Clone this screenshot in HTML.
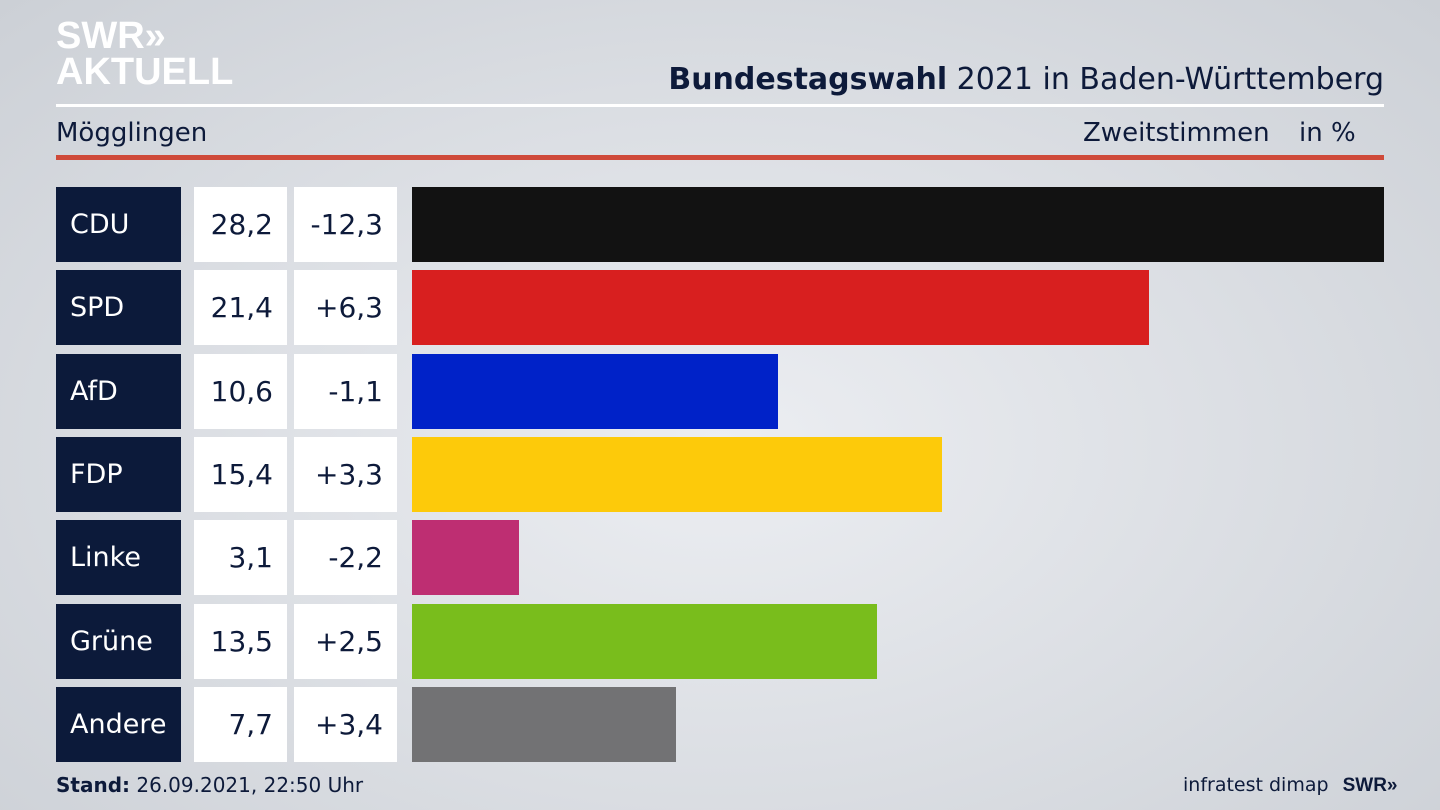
<!DOCTYPE html>
<html><head><meta charset="utf-8"><style>
*{margin:0;padding:0;box-sizing:border-box}
body{width:1440px;height:810px;overflow:hidden;font-family:"DejaVu Sans","Liberation Sans",sans-serif;color:#0d1a3a;
background:radial-gradient(ellipse at 50% 55%,#eceef2 0%,#dcdfe4 50%,#ccd0d6 100%);position:relative}
.a{position:absolute}
.logo{font-family:"Liberation Sans",sans-serif;font-weight:bold;color:#fff;font-size:38px;line-height:34px;letter-spacing:0px}
.row{position:absolute;left:56px;height:75px}
.nm{position:absolute;left:0;width:125px;height:75px;background:#0c1a3a;color:#fff;font-size:27px;line-height:75px;padding-left:14px}
.v{position:absolute;left:138px;width:93px;height:75px;background:#fff;font-size:28px;line-height:75px;text-align:right;padding-right:14px}
.d{position:absolute;left:238px;width:103px;height:75px;background:#fff;font-size:28px;line-height:75px;text-align:right;padding-right:14px}
.b{position:absolute;left:356px;height:75px}
</style></head><body>
<div class="a logo" style="left:56px;top:19px">SWR&#187;</div>
<div class="a logo" style="left:56px;top:55px">AKTUELL</div>
<div class="a" style="left:56px;top:104px;width:1328px;height:3px;background:#fff"></div>
<div class="a" style="right:56px;top:60px;font-size:30px;line-height:40px"><b>Bundestagswahl</b> 2021 in Baden-Württemberg</div>
<div class="a" style="left:56px;top:115px;font-size:26px;line-height:36px">Mögglingen</div>
<div class="a" style="left:1083px;top:115px;font-size:26px;line-height:36px">Zweitstimmen</div>
<div class="a" style="left:1299px;top:115px;font-size:26px;line-height:36px">in %</div>
<div class="a" style="left:56px;top:155px;width:1328px;height:5px;background:#cf4a3a"></div>

<div class="row" style="top:187px"><div class="nm">CDU</div><div class="v">28,2</div><div class="d">-12,3</div><div class="b" style="width:972px;background:#121212"></div></div>
<div class="row" style="top:270px"><div class="nm">SPD</div><div class="v">21,4</div><div class="d">+6,3</div><div class="b" style="width:737px;background:#d81f1f"></div></div>
<div class="row" style="top:354px"><div class="nm">AfD</div><div class="v">10,6</div><div class="d">-1,1</div><div class="b" style="width:366px;background:#0022c8"></div></div>
<div class="row" style="top:437px"><div class="nm">FDP</div><div class="v">15,4</div><div class="d">+3,3</div><div class="b" style="width:530px;background:#fdca0a"></div></div>
<div class="row" style="top:520px"><div class="nm">Linke</div><div class="v">3,1</div><div class="d">-2,2</div><div class="b" style="width:107px;background:#be2e72"></div></div>
<div class="row" style="top:604px"><div class="nm">Grüne</div><div class="v">13,5</div><div class="d">+2,5</div><div class="b" style="width:465px;background:#79bd1c"></div></div>
<div class="row" style="top:687px"><div class="nm">Andere</div><div class="v">7,7</div><div class="d">+3,4</div><div class="b" style="width:264px;background:#727274"></div></div>

<div class="a" style="left:56px;top:771px;font-size:20px;line-height:28px"><b>Stand:</b> 26.09.2021, 22:50 Uhr</div>
<div class="a" style="left:1183px;top:771px;font-size:19px;line-height:28px">infratest dimap <b style="font-family:'Liberation Sans',sans-serif;margin-left:8px">SWR&#187;</b></div>
</body></html>
